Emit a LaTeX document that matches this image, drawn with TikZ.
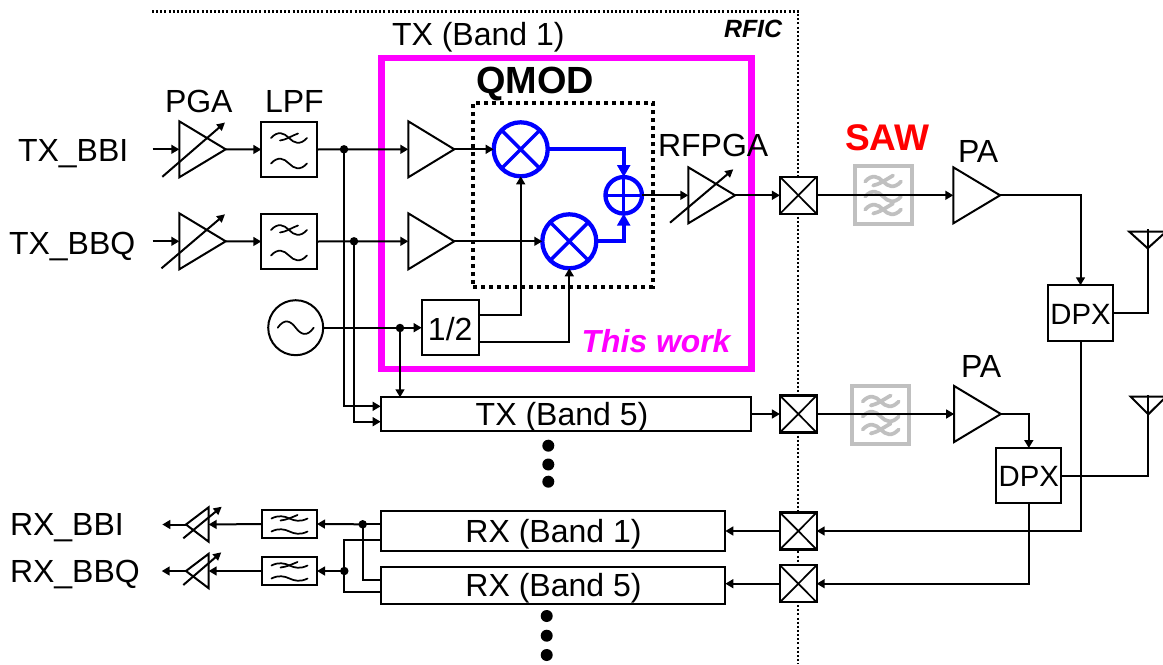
\documentclass[tikz,border=0pt]{standalone}
\usepackage{fontspec}
\setmainfont{Liberation Sans}
\usetikzlibrary{arrows.meta,calc}
\makeatletter
\pgfdeclareshape{ampshape}{
  \inheritsavedanchors[from=rectangle]
  \inheritanchorborder[from=rectangle]
  \inheritanchor[from=rectangle]{center}
  \inheritanchor[from=rectangle]{north}
  \inheritanchor[from=rectangle]{south}
  \inheritanchor[from=rectangle]{east}
  \inheritanchor[from=rectangle]{west}
  \backgroundpath{
    \southwest \pgf@xa=\pgf@x \pgf@ya=\pgf@y
    \northeast \pgf@xb=\pgf@x \pgf@yb=\pgf@y
    \pgf@yc=.5\pgf@ya \advance\pgf@yc by .5\pgf@yb
    \pgfpathmoveto{\pgfqpoint{\pgf@xa}{\pgf@ya}}
    \pgfpathlineto{\pgfqpoint{\pgf@xa}{\pgf@yb}}
    \pgfpathlineto{\pgfqpoint{\pgf@xb}{\pgf@yc}}
    \pgfpathclose
  }
}
\makeatother
\definecolor{mag}{RGB}{255,0,255}
\definecolor{sawgray}{RGB}{192,192,192}
\definecolor{qblue}{RGB}{0,0,255}
\tikzset{
  x=0.75pt,y=-0.75pt,
  wire/.style={line width=1.5pt,line join=miter},
  arr/.style={wire,-{Triangle[length=6pt,width=6.6pt]}},
  barr/.style={line width=3pt,qblue,-{Triangle[length=9pt,width=9.5pt]}},
  boxn/.style 2 args={draw,line width=1.6pt,fill=white,inner sep=0pt,outer sep=0pt,minimum width=#1*0.75pt,minimum height=#2*0.75pt},
  amp/.style 2 args={shape=ampshape,draw,line width=1.5pt,inner sep=0pt,outer sep=0pt,minimum width=#1*0.75pt,minimum height=#2*0.75pt},
  mix/.style={circle,draw=qblue,line width=3.2pt,fill=white,inner sep=0pt,outer sep=0pt,minimum size=#1*0.75pt},
  dotn/.style={circle,fill=black,inner sep=0pt,outer sep=0pt,minimum size=8.5*0.75pt},
  bigdot/.style={circle,fill=black,inner sep=0pt,outer sep=0pt,minimum size=12*0.75pt},
  osc/.style={circle,draw,line width=1.5pt,inner sep=0pt,outer sep=0pt,minimum size=55*0.75pt},
  txt/.style={inner sep=0pt,outer sep=0pt,anchor=base west,font=\fontsize{24pt}{28pt}\selectfont},
  txtc/.style={inner sep=0pt,outer sep=0pt,font=\fontsize{24pt}{28pt}\selectfont},
  sym/.style={line width=1.3pt,line cap=round},
  sawsym/.style={line width=2.8pt,line cap=round,sawgray},
  ddot/.style={line width=1.6pt,dash pattern=on 1.5pt off 1.6pt},
}
\newcommand{\tildestroke}[3]{% options, shift, yscale
  \draw[#1,shift={#2},yscale=#3] (-18,0) .. controls (-11,-9) and (-5,-6) .. (0,0) .. controls (5,6) and (11,9) .. (18,0);}
\newcommand{\lpfmark}[1]{%
  \tildestroke{sym}{($(#1.center)+(0,-11.5)$)}{0.85}
  \draw[sym] ($(#1.center)+(-9,-9)$) .. controls ($(#1.center)+(-3,-9.5)$) and ($(#1.center)+(3,-14)$) .. ($(#1.center)+(9,-16)$);
  \tildestroke{sym}{($(#1.center)+(0,14)$)}{0.85}}
\newcommand{\rxlpfmark}[1]{%
  \tildestroke{sym}{($(#1.center)+(0,-5.5)$)}{0.4}
  \draw[sym] ($(#1.center)+(-9,-3.5)$) .. controls ($(#1.center)+(-3,-4)$) and ($(#1.center)+(3,-7)$) .. ($(#1.center)+(8,-9)$);
  \tildestroke{sym}{($(#1.center)+(0,7.5)$)}{0.4}}
\newcommand{\sawmark}[1]{%
  \tildestroke{sawsym}{($(#1.center)+(0,-13)$)}{0.85}
  \draw[sawsym] ($(#1.center)+(-10,-9)$) .. controls ($(#1.center)+(-4,-10)$) and ($(#1.center)+(3,-15)$) .. ($(#1.center)+(10,-19)$);
  \tildestroke{sawsym}{($(#1.center)+(0,2)$)}{0.85}
  \tildestroke{sawsym}{($(#1.center)+(0,15)$)}{0.85}
  \draw[sawsym] ($(#1.center)+(-10,19)$) .. controls ($(#1.center)+(-4,18)$) and ($(#1.center)+(3,13)$) .. ($(#1.center)+(10,9)$);}
\newcommand{\vgarrow}[5]{%
  \draw[wire,-{Triangle[length=6pt,width=6pt]}] ($(#1.center)+(#2,#3)$) -- ($(#1.center)+(#4,#5)$);}
\newcommand{\xcross}[1]{%
  \draw[line width=1.3pt] (#1.north west) -- (#1.south east) (#1.north east) -- (#1.south west);}
\newcommand{\mixcross}[1]{%
  \draw[qblue,line width=2.6pt] (#1.45) -- (#1.225) (#1.135) -- (#1.315);}
\begin{document}
\begin{tikzpicture}
\useasboundingbox (0,0) rectangle (1163,664);
% RFIC boundary
\coordinate (rfa) at (152,11.5);
\coordinate (rfb) at (798.3,11.5);
\coordinate (rfc) at (798.3,664);
\draw[ddot] (rfa) -- (rfb) -- (rfc);
% highlight frames
\node[draw=mag,line width=4.8pt,inner sep=0pt,outer sep=0pt,minimum width=370*0.75pt,minimum height=311*0.75pt] (thiswork) at (566.5,213.5) {};
\node[draw=black,line width=3pt,dash pattern=on 3pt off 3pt,inner sep=0pt,outer sep=0pt,minimum width=179.4*0.75pt,minimum height=184*0.75pt] (qmod) at (563,194.7) {};
% TX I/Q baseband
\coordinate (txi) at (152.7,149.3);
\coordinate (txq) at (152.7,241.3);
\node[amp={46.4}{56}] (pga1) at (202.5,149.3) {};
\node[amp={46.4}{56}] (pga2) at (202.5,241.3) {};
\node[boxn={55.4}{55.6}] (lpf1) at (289,149.5) {};
\node[boxn={55.4}{55.6}] (lpf2) at (289,241.5) {};
\node[amp={46}{56}] (qa1) at (431.3,149.3) {};
\node[amp={46}{56}] (qa2) at (431.3,241.3) {};
\node[dotn] (d1) at (344,149.3) {};
\node[dotn] (d2) at (354,241.3) {};
\node[osc] (lo) at (295.7,327.7) {};
\node[dotn] (d3) at (400,328) {};
\node[boxn={57}{55.3}] (div) at (450.2,327.7) {};
\node[txtc] (ldiv) at ($(div.center)+(0,1)$) {1/2};
\node[mix=54] (m1) at (520.7,149.3) {};
\node[mix=54] (m2) at (569.3,241.3) {};
\node[mix=36.5] (add) at (623.7,195.3) {};
\node[amp={46.7}{56}] (rfpga) at (711.7,195.3) {};
\node[boxn={36.7}{37}] (xb1) at (798.3,195.3) {};
\node[boxn={36.7}{37}] (xb2) at (798.3,414) {};
\node[boxn={36.7}{37}] (xb3) at (798.3,531) {};
\node[boxn={36.7}{37}] (xb4) at (798.3,583.7) {};
\node[boxn={370}{33.4}] (tx5) at (566,414) {};
\node[txtc] (ltx5) at (562,417.5) {TX (Band 5)};
\node[boxn={344.6}{40}] (rx1) at (553,531) {};
\node[txtc] (lrx1) at (553.5,534.5) {RX (Band 1)};
\node[boxn={344.6}{37}] (rx5) at (553,585.2) {};
\node[txtc] (lrx5) at (553.5,588) {RX (Band 5)};
% SAW filters
\node[draw=sawgray,line width=3pt,inner sep=0pt,outer sep=0pt,minimum width=57*0.75pt,minimum height=58*0.75pt] (saw1) at (883.1,194.5) {};
\node[draw=sawgray,line width=3pt,inner sep=0pt,outer sep=0pt,minimum width=57*0.75pt,minimum height=58*0.75pt] (saw2) at (880.7,414.5) {};
\sawmark{saw1}
\sawmark{saw2}
\node[amp={46.7}{56}] (pa1) at (976.7,195.3) {};
\node[amp={46.7}{56}] (pa2) at (977.5,414) {};
\node[boxn={64.4}{55.4}] (dpx1) at (1080.5,313) {};
\node[txtc,font=\fontsize{22pt}{24pt}\selectfont] (ldpx1) at ($(dpx1.center)+(0,1)$) {DPX};
\node[boxn={65}{55.3}] (dpx2) at (1028.8,475.7) {};
\node[txtc,font=\fontsize{22pt}{24pt}\selectfont] (ldpx2) at ($(dpx2.center)+(0,1)$) {DPX};
% antennas
\coordinate (an1t) at (1147.7,229);
\coordinate (an1a) at (1147.7,248.3);
\coordinate (an1l) at (1129.3,231.7);
\coordinate (an1r) at (1166,231.7);
\coordinate (an2t) at (1148.3,394.5);
\coordinate (an2a) at (1148.3,414.3);
\coordinate (an2l) at (1130.7,396.7);
\coordinate (an2r) at (1166,396.7);
\draw[wire,line join=miter] (an1l) -- (an1r) -- (an1a) -- cycle;
\draw[wire,line join=miter] (an2l) -- (an2r) -- (an2a) -- cycle;
\draw[wire] (dpx1.east) -| (an1t);
\draw[wire] (dpx2.east) -| (an2t);
% RX baseband
\node[amp={22.7}{34.4},rotate=180] (ra1) at (197.3,524.5) {};
\node[amp={22.7}{34.4},rotate=180] (ra2) at (197.3,571) {};
\node[boxn={55}{27.7}] (rf1) at (289.5,524) {};
\node[boxn={55}{28.3}] (rf2) at (289.5,571) {};
\node[dotn] (rd1) at (362.7,524.3) {};
\node[dotn] (rd2) at (344.3,571) {};
\coordinate (rxi) at (162.3,524.5);
\coordinate (rxq) at (161.7,571);
% symbols in boxes
\lpfmark{lpf1}
\lpfmark{lpf2}
\rxlpfmark{rf1}
\rxlpfmark{rf2}
\tildestroke{sym}{(lo.center)}{1.1}
\mixcross{m1}
\mixcross{m2}
\draw[qblue,line width=2.6pt] (add.north) -- (add.south) (add.west) -- (add.east);
\xcross{xb1}
\xcross{xb2}
\xcross{xb3}
\xcross{xb4}
\vgarrow{pga1}{-40.2}{27.5}{22.5}{-26.8}
\vgarrow{pga2}{-41}{27}{22.5}{-27}
\vgarrow{rfpga}{-41.7}{27.4}{21.6}{-26}
\vgarrow{ra1}{-14}{13.8}{24.4}{-17.8}
\vgarrow{ra2}{-14}{14}{24}{-18.7}
% TX connectors
\draw[arr] (txi) -- (pga1.west);
\draw[arr] (txq) -- (pga2.west);
\draw[arr] (pga1.east) -- (lpf1.west);
\draw[arr] (pga2.east) -- (lpf2.west);
\draw[arr] (lpf1.east) -- (qa1.west);
\draw[arr] (lpf2.east) -- (qa2.west);
\draw[arr] (qa1.east) -- (m1.west);
\draw[arr] (qa2.east) -- (m2.west);
\coordinate (tx5a) at (380.7,406.3);
\coordinate (tx5b) at (380.7,421.7);
\draw[arr] (d1.center) |- (tx5a);
\draw[arr] (d2.center) |- (tx5b);
\draw[arr] (lo.east) -- (div.west);
\draw[arr] (d3.center) -- (d3.center |- tx5.north);
\coordinate (dv1) at (478.7,315);
\coordinate (dv2) at (478.7,342.3);
\draw[arr] (dv1) -| (m1.south);
\draw[arr] (dv2) -| (m2.south);
\draw[barr] (m1.east) -| (add.north);
\draw[barr] (m2.east) -| (add.south);
\draw[arr] (add.east) -- (rfpga.west);
\draw[arr] (rfpga.east) -- (xb1.west);
\draw[arr] (xb1.east) -- (pa1.west);
\draw[arr] (tx5.east |- xb2.west) -- (xb2.west);
\draw[arr] (xb2.east) -- (pa2.west);
\draw[arr] (pa1.east) -| (dpx1.north);
\draw[arr] (pa2.east) -| (dpx2.north);
% RX connectors
\draw[arr] (dpx1.south) |- (xb3.east);
\draw[arr] (dpx2.south) |- (xb4.east);
\draw[arr] (xb3.west) -- (rx1.east);
\draw[arr] (xb4.west) -- (rx5.east |- xb4.west);
\coordinate (rxa) at (380.7,524.3);
\coordinate (rxb) at (380.7,580);
\coordinate (rxc) at (380.7,540);
\coordinate (rxd) at (380.7,591.7);
\draw[wire] (rxa) -- (rd1.center) |- (rxb);
\draw[wire] (rxc) -| (rd2.center) |- (rxd);
\draw[arr] (rd1.center) -- (rf1.east);
\draw[arr] (rd2.center) -- (rf2.east);
\draw[arr] (rf1.west) -- (ra1.west);
\draw[arr] (rf2.west) -- (ra2.west);
\draw[arr] (ra1.east) -- (rxi);
\draw[arr] (ra2.east) -- (rxq);
% labels
\node[txt] (ltxi) at (18,161.7) {TX\_BBI};
\node[txt] (ltxq) at (9,254) {TX\_BBQ};
\node[txt] (lrxi) at (10,535.5) {RX\_BBI};
\node[txt] (lrxq) at (10,582) {RX\_BBQ};
\node[txt] (lpga) at (165,112.7) {PGA};
\node[txt] (llpf) at (265,112.7) {LPF};
\node[txt] (ltx1) at (392,45) {TX (Band 1)};
\node[txt,font=\bfseries\fontsize{28.4pt}{32pt}\selectfont] (lqmod) at (476,93) {QMOD};
\node[txt] (lrfpga) at (658,156.7) {RFPGA};
\node[txt,mag,font=\bfseries\itshape\fontsize{23.9pt}{28pt}\selectfont] (lwork) at (581.7,352.7) {This work};
\node[txt,font=\bfseries\itshape\fontsize{18.7pt}{22pt}\selectfont] (lrfic) at (724,37) {RFIC};
\node[txt,red,font=\bfseries\fontsize{27.8pt}{32pt}\selectfont] (lsaw) at (845,150) {SAW};
\node[txt] (lpa1) at (958,162) {PA};
\node[txt] (lpa2) at (961,377) {PA};
% ellipsis dots
\node[bigdot] (e1) at (548.3,445.7) {};
\node[bigdot] (e2) at (548.3,464.5) {};
\node[bigdot] (e3) at (548.3,481.7) {};
\node[bigdot] (e4) at (546.7,616) {};
\node[bigdot] (e5) at (546.7,635.7) {};
\node[bigdot] (e6) at (546.7,655) {};
\end{tikzpicture}
\end{document}
